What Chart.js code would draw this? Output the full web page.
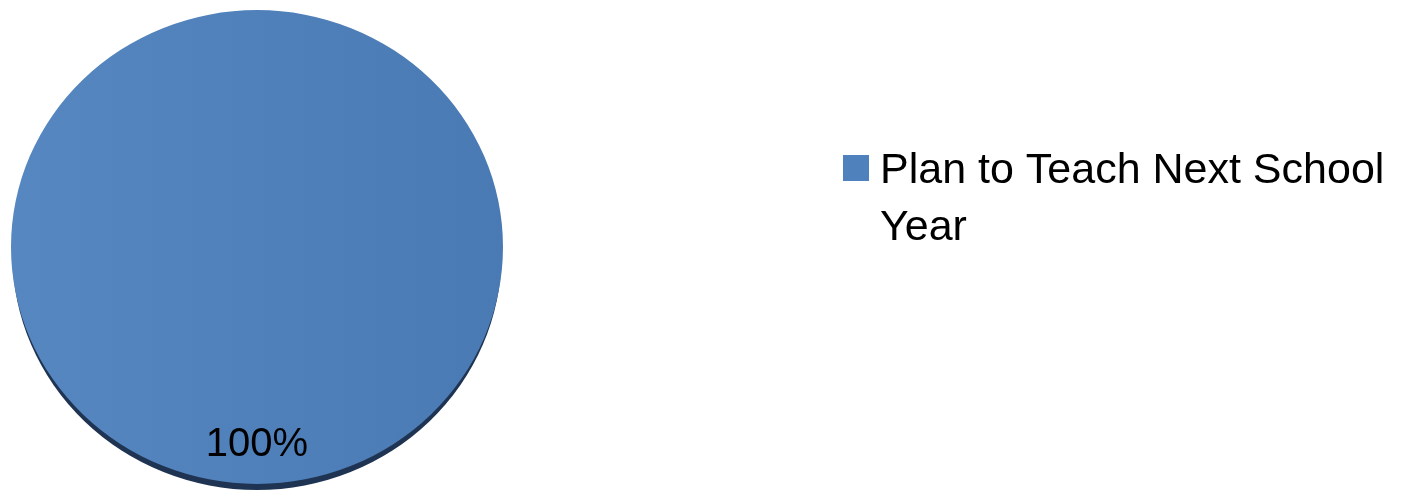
<!DOCTYPE html>
<html>
<head>
<meta charset="utf-8">
<script src="https://cdn.jsdelivr.net/npm/chart.js@4.4.0/dist/chart.umd.min.js"></script>
<style>
  html, body { margin: 0; padding: 0; background: #ffffff; }
  #wrap { width: 1408px; height: 494px; position: relative; }
</style>
</head>
<body>
<div id="wrap"><canvas id="c" width="1408" height="494"></canvas></div>
<script>
const categories = ["Plan to Teach Next School Year"];
const seriesValues = [100];
const sliceColors = ["#4F81BD"];

const FONT = '"Liberation Sans", Arial, sans-serif';
const Y_SCALE = 0.963;

function sliceGradient(ctx) {
  const chart = ctx.chart;
  const a = chart.chartArea;
  if (!a) return sliceColors[ctx.dataIndex];
  const g = chart.ctx.createLinearGradient(a.left, 0, a.right, 0);
  g.addColorStop(0, "#5687C1");
  g.addColorStop(1, "#4A7AB4");
  return g;
}

const pie3d = {
  id: "pie3d",
  beforeDatasetsDraw(chart) {
    const ctx = chart.ctx;
    const arc = chart.getDatasetMeta(0).data[0];
    const cx = arc.x, cy = arc.y, r = arc.outerRadius;
    ctx.save();
    ctx.translate(cx, cy);
    ctx.scale(1, Y_SCALE);
    ctx.translate(-cx, -cy);
    // dark side edge of the tilted pie
    ctx.beginPath();
    ctx.arc(cx, cy + 7.5 / Y_SCALE, r - 1.5, 0, Math.PI * 2);
    ctx.fillStyle = "#1F3452";
    ctx.fill();
  },
  afterDatasetsDraw(chart) {
    const ctx = chart.ctx;
    ctx.restore();
    const meta = chart.getDatasetMeta(0);
    const data = chart.data.datasets[0].data;
    const total = data.reduce((s, v) => s + v, 0);
    meta.data.forEach((arc, i) => {
      const mid = (arc.startAngle + arc.endAngle) / 2;
      const rr = arc.outerRadius * 0.835;
      const x = arc.x + Math.cos(mid) * rr;
      const y = arc.y + Math.sin(mid) * rr * Y_SCALE;
      ctx.save();
      ctx.font = "40px " + FONT;
      ctx.fillStyle = "#000000";
      ctx.textAlign = "center";
      ctx.textBaseline = "middle";
      ctx.fillText(Math.round(data[i] / total * 100) + "%", x, y);
      ctx.restore();
    });
    // legend
    const lx = 843, ly = 155, box = 26, tx = 880, maxW = 515, lh = 57;
    let row = 0;
    chart.data.labels.forEach((label, i) => {
      ctx.save();
      ctx.fillStyle = sliceColors[i];
      ctx.fillRect(lx, ly + row * lh, box, box);
      ctx.font = "43px " + FONT;
      ctx.fillStyle = "#000000";
      ctx.textAlign = "left";
      ctx.textBaseline = "alphabetic";
      const words = label.split(" ");
      let line = "";
      const lines = [];
      words.forEach(w => {
        const test = line ? line + " " + w : w;
        if (ctx.measureText(test).width > maxW && line) { lines.push(line); line = w; }
        else line = test;
      });
      if (line) lines.push(line);
      lines.forEach((ln, k) => {
        ctx.fillText(ln, tx, 183 + (row + k) * lh);
      });
      row += lines.length;
      ctx.restore();
    });
  }
};

new Chart(document.getElementById("c"), {
  type: "pie",
  data: {
    labels: categories,
    datasets: [{
      data: seriesValues,
      backgroundColor: sliceGradient,
      borderWidth: 0,
      hoverOffset: 0
    }]
  },
  options: {
    responsive: false,
    animation: false,
    events: [],
    layout: { padding: { left: 11, right: 905, top: 1, bottom: 1 } },
    plugins: {
      legend: { display: false },
      tooltip: { enabled: false },
      title: { display: false }
    }
  },
  plugins: [pie3d]
});
</script>
</body>
</html>
